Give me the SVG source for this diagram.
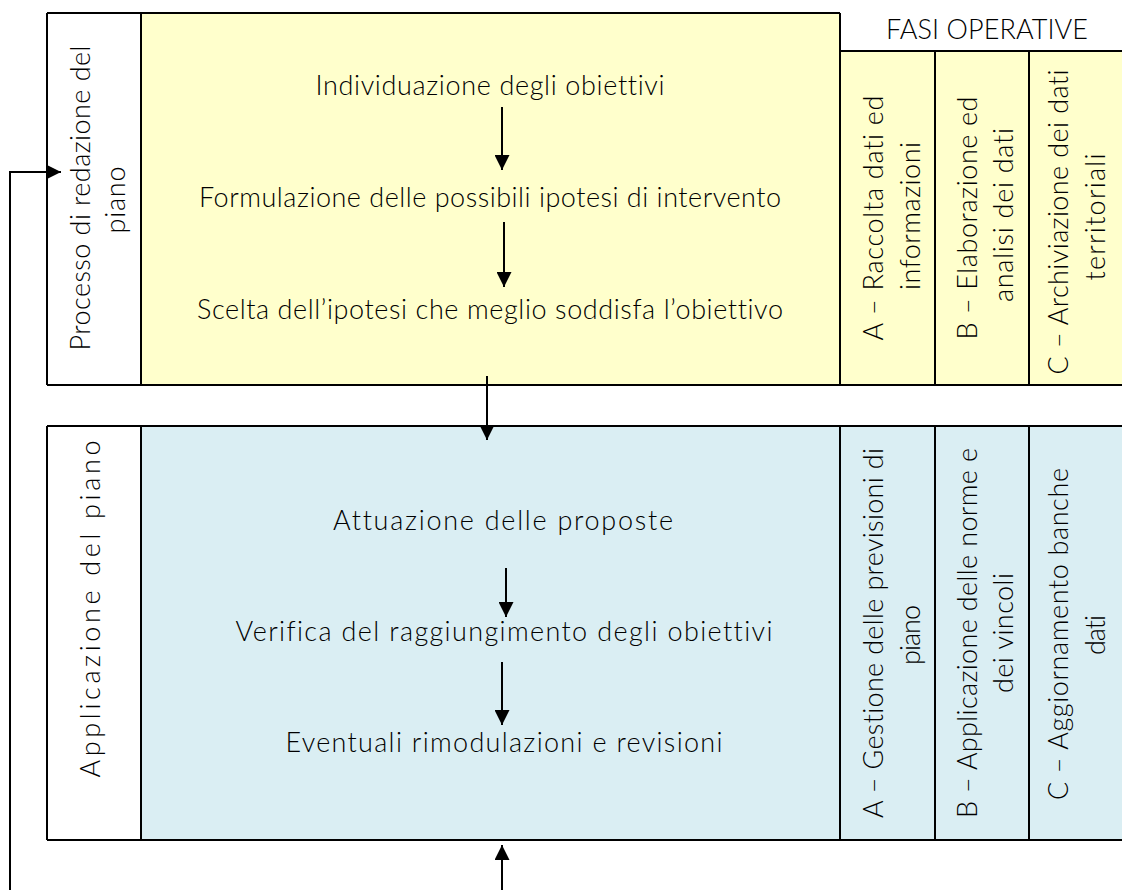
<svg xmlns="http://www.w3.org/2000/svg" width="1122" height="890" viewBox="0 0 1122 890">
<defs>
<style>
.t{font-family:Lato,"Open Sans","Liberation Sans",sans-serif;font-weight:300;font-size:27px;fill:#000;text-anchor:middle;font-variant-ligatures:none}
.ln{stroke:#000;stroke-width:2;fill:none}
.yl{fill:#FFFFCC}
.bl{fill:#DAEEF3}
.ar{stroke:#000;stroke-width:2;fill:none;marker-end:url(#ah)}
</style>
<marker id="ah" viewBox="0 0 10 10" refX="10" refY="5" markerWidth="15" markerHeight="15" markerUnits="userSpaceOnUse" orient="auto">
<path d="M0,0 L10,5 L0,10 Z" fill="#000"/>
</marker>
</defs>
<rect width="1122" height="890" fill="#fff"/>

<g id="top-block">
<rect class="yl" x="141" y="13" width="699" height="372"/>
<rect class="yl" x="840" y="51" width="282" height="334"/>
<path class="ln" d="M47,13 H840 M47,385 H1122 M840,51 H1122 M47,13 V385 M141,13 V385 M840,13 V385 M935,51 V385 M1029,51 V385"/>
<text class="t" x="987" y="39" textLength="202" lengthAdjust="spacing">FASI OPERATIVE</text>
<text class="t" transform="translate(90,198) rotate(-90)" textLength="305" lengthAdjust="spacing">Processo di redazione del</text>
<text class="t" transform="translate(125,200) rotate(-90)" textLength="67" lengthAdjust="spacing">piano</text>
<text class="t" x="490" y="95" textLength="349" lengthAdjust="spacing">Individuazione degli obiettivi</text>
<text class="t" x="490" y="207" textLength="582" lengthAdjust="spacing">Formulazione delle possibili ipotesi di intervento</text>
<text class="t" x="490" y="319" textLength="586" lengthAdjust="spacing">Scelta dell’ipotesi che meglio soddisfa l’obiettivo</text>
<text class="t" transform="translate(883,218) rotate(-90)" textLength="245" lengthAdjust="spacing">A – Raccolta dati ed</text>
<text class="t" transform="translate(920,216) rotate(-90)" textLength="148" lengthAdjust="spacing">informazioni</text>
<text class="t" transform="translate(977,218) rotate(-90)" textLength="243" lengthAdjust="spacing">B – Elaborazione ed</text>
<text class="t" transform="translate(1013,215) rotate(-90)" textLength="174" lengthAdjust="spacing">analisi dei dati</text>
<text class="t" transform="translate(1068,222) rotate(-90)" textLength="305" lengthAdjust="spacing">C – Archiviazione dei dati</text>
<text class="t" transform="translate(1105,217) rotate(-90)" textLength="127" lengthAdjust="spacing">territoriali</text>
</g>

<g id="bottom-block">
<rect class="bl" x="141" y="426" width="981" height="414"/>
<path class="ln" d="M47,426 H1122 M47,840 H1122 M47,426 V840 M141,426 V840 M840,426 V840 M935,426 V840 M1029,426 V840"/>
<text class="t" transform="translate(100,609) rotate(-90)" textLength="337" lengthAdjust="spacing">Applicazione del piano</text>
<text class="t" x="503" y="530" textLength="340" lengthAdjust="spacing">Attuazione delle proposte</text>
<text class="t" x="504" y="641" textLength="537" lengthAdjust="spacing">Verifica del raggiungimento degli obiettivi</text>
<text class="t" x="504" y="752" textLength="437" lengthAdjust="spacing">Eventuali rimodulazioni e revisioni</text>
<text class="t" transform="translate(883,633) rotate(-90)" textLength="370" lengthAdjust="spacing">A – Gestione delle previsioni di</text>
<text class="t" transform="translate(920,635) rotate(-90)" textLength="60" lengthAdjust="spacing">piano</text>
<text class="t" transform="translate(977,633) rotate(-90)" textLength="370" lengthAdjust="spacing">B – Applicazione delle norme e</text>
<text class="t" transform="translate(1013,633) rotate(-90)" textLength="120" lengthAdjust="spacing">dei vincoli</text>
<text class="t" transform="translate(1068,634) rotate(-90)" textLength="332" lengthAdjust="spacing">C – Aggiornamento banche</text>
<text class="t" transform="translate(1105,635) rotate(-90)" textLength="40" lengthAdjust="spacing">dati</text>
</g>

<g id="connectors">
<line class="ar" x1="502" y1="107" x2="502" y2="170"/>
<line class="ar" x1="504" y1="222" x2="504" y2="287"/>
<line class="ar" x1="487" y1="376" x2="487" y2="440"/>
<line class="ar" x1="506" y1="568" x2="506" y2="617"/>
<line class="ar" x1="502" y1="662" x2="502" y2="725"/>
<line class="ar" x1="502" y1="890" x2="502" y2="845"/>
<polyline class="ar" points="10,890 10,172 61,172"/>
</g>
</svg>
